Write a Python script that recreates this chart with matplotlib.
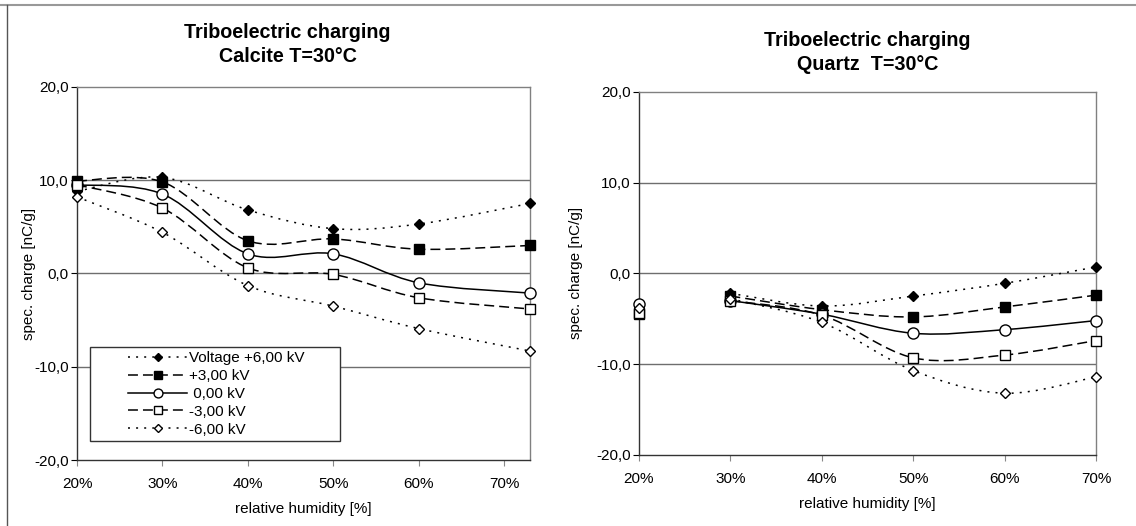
import numpy as np
import matplotlib
matplotlib.use("Agg")
import matplotlib.pyplot as plt
from matplotlib.path import Path
from matplotlib.patches import PathPatch, Rectangle
from matplotlib.lines import Line2D

plt.rcParams['font.family'] = ['Liberation Sans', 'DejaVu Sans']

# relative humidity [%]
hum_calcite = [20, 30, 40, 50, 60, 73]
hum_quartz = [20, 25, 30, 40, 50, 60, 70]   # 25 % not measured -> gap

labels = ["Voltage +6,00 kV", "+3,00 kV", " 0,00 kV", "-3,00 kV", "-6,00 kV"]

calcite_p6 = [8.8, 10.3, 6.8, 4.8, 5.3, 7.5]
calcite_p3 = [9.9, 9.8, 3.5, 3.7, 2.6, 3.0]
calcite_0 = [9.5, 8.5, 2.1, 2.1, -1.0, -2.1]
calcite_m3 = [9.5, 7.0, 0.6, -0.1, -2.6, -3.8]
calcite_m6 = [8.2, 4.4, -1.3, -3.5, -5.9, -8.3]

nan = np.nan
quartz_p6 = [-4.0, nan, -2.2, -3.6, -2.5, -1.1, 0.7]
quartz_p3 = [-4.5, nan, -2.5, -4.0, -4.8, -3.7, -2.4]
quartz_0 = [-3.4, nan, -3.0, -4.5, -6.6, -6.2, -5.2]
quartz_m3 = [-4.4, nan, -3.0, -4.6, -9.3, -9.0, -7.4]
quartz_m6 = [-3.8, nan, -2.8, -5.4, -10.7, -13.2, -11.4]

DOT = (0, (1.3, 4.0))
DASH = (0, (6.5, 3.3))
styles = [
    dict(ls=DOT, marker='D', ms=5.5, mfc='black'),
    dict(ls=DASH, marker='s', ms=7, mfc='black'),
    dict(ls='-', marker='o', ms=8, mfc='white'),
    dict(ls=DASH, marker='s', ms=6.5, mfc='white'),
    dict(ls=DOT, marker='D', ms=5, mfc='white'),
]
FS = 11


def smooth_path(x, y):
    # bezier segments through the points (excel style smoothing)
    x = np.asarray(x, float)
    y = np.asarray(y, float)
    ok = ~np.isnan(y)
    xs, ys = x[ok], y[ok]
    idx = np.where(ok)[0]
    runs = np.split(np.arange(len(idx)), np.where(np.diff(idx) > 1)[0] + 1)
    verts, codes = [], []
    for r in runs:
        if len(r) < 2:
            continue
        px, py = xs[r], ys[r]
        n = len(px)
        verts.append((px[0], py[0]))
        codes.append(Path.MOVETO)
        for i in range(n - 1):
            p0 = i - 1 if i > 0 else i
            p3 = i + 2 if i + 2 < n else i + 1
            c1 = (px[i] + (px[i + 1] - px[p0]) / 6, py[i] + (py[i + 1] - py[p0]) / 6)
            c2 = (px[i + 1] - (px[p3] - px[i]) / 6, py[i + 1] - (py[p3] - py[i]) / 6)
            verts += [c1, c2, (px[i + 1], py[i + 1])]
            codes += [Path.CURVE4] * 3
    return Path(verts, codes)


def panel(ax, x, series, xlim, ticks, ylab_x):
    for yv in (10, 0, -10):
        ax.axhline(yv, color='#6e6e6e', lw=1, zorder=1)
    for yv, st in zip(series, styles):
        ax.add_patch(PathPatch(smooth_path(x, yv), fill=False, ec='black',
                               lw=1.1, ls=st['ls'], zorder=2))
        ax.plot(x, yv, ls='none', marker=st['marker'], ms=st['ms'],
                mfc=st['mfc'], mec='black', mew=1, zorder=3, clip_on=False)
    ax.set_xlim(*xlim)
    ax.set_ylim(-20, 20)
    ax.set_yticks([-20, -10, 0, 10, 20])
    ax.set_yticklabels(['-20,0', '-10,0', '0,0', '10,0', '20,0'], fontsize=FS)
    ax.set_xticks(ticks)
    ax.set_xticklabels(['%d%%' % t for t in ticks], fontsize=FS)
    ax.tick_params(axis='x', length=4, color='#888888', pad=8)
    ax.tick_params(axis='y', length=4, color='black', pad=2)
    for s in ('top', 'right'):
        ax.spines[s].set_color('#808080')
    for s in ('left', 'bottom'):
        ax.spines[s].set_color('#333333')
    for s in ax.spines.values():
        s.set_linewidth(1)
    ax.set_xlabel('relative humidity [%]', fontsize=FS, labelpad=8)
    ax.set_ylabel('spec. charge [nC/g]', fontsize=FS)
    ax.yaxis.set_label_coords(ylab_x, 0.5)


fig = plt.figure(figsize=(11.36, 5.26), dpi=100)
ax1 = fig.add_axes([0.0678, 0.1249, 0.3988, 0.7103])
ax2 = fig.add_axes([0.5625, 0.135, 0.4023, 0.6907])

panel(ax1, hum_calcite, [calcite_p6, calcite_p3, calcite_0, calcite_m3, calcite_m6],
      (20, 73), [20, 30, 40, 50, 60, 70], -0.0905)
panel(ax2, hum_quartz, [quartz_p6, quartz_p3, quartz_0, quartz_m3, quartz_m6],
      (20, 70), [20, 30, 40, 50, 60, 70], -0.1225)

tkw = dict(ha='center', va='center', fontsize=14.2, fontweight='bold')
fig.text(287.5 / 1136, 1 - 33 / 526, 'Triboelectric charging', **tkw)
fig.text(287.5 / 1136, 1 - 57 / 526, 'Calcite T=30°C', **tkw)
fig.text(867.7 / 1136, 1 - 40 / 526, 'Triboelectric charging', **tkw)
fig.text(867.7 / 1136, 1 - 64 / 526, 'Quartz  T=30°C', **tkw)

# legend: entries without frame, box drawn separately
handles = [Line2D([], [], color='black', lw=1.1, ls=st['ls'], marker=st['marker'],
                  ms=st['ms'] * 0.8, mfc=st['mfc'], mec='black') for st in styles]
leg = ax1.legend(handles, labels, loc='upper left',
                 bbox_to_anchor=(0.1126, 0.2918),
                 fontsize=FS, frameon=False, handlelength=3.86,
                 handletextpad=0.15, labelspacing=0.25, borderpad=0,
                 borderaxespad=0)
leg.set_zorder(6)
ax1.add_patch(Rectangle((0.0296, 0.0517), 0.551, 0.2524,
                        transform=ax1.transAxes, fc='white', ec='#333333',
                        lw=1, zorder=5))

# outer frame lines of the original page
fig.add_artist(Line2D([0, 1], [1 - 5 / 526, 1 - 5 / 526], color='#999999', lw=1.5))
fig.add_artist(Line2D([6.5 / 1136, 6.5 / 1136], [0, 1 - 5 / 526], color='#555555', lw=1))

fig.savefig('out.png', dpi=100)
